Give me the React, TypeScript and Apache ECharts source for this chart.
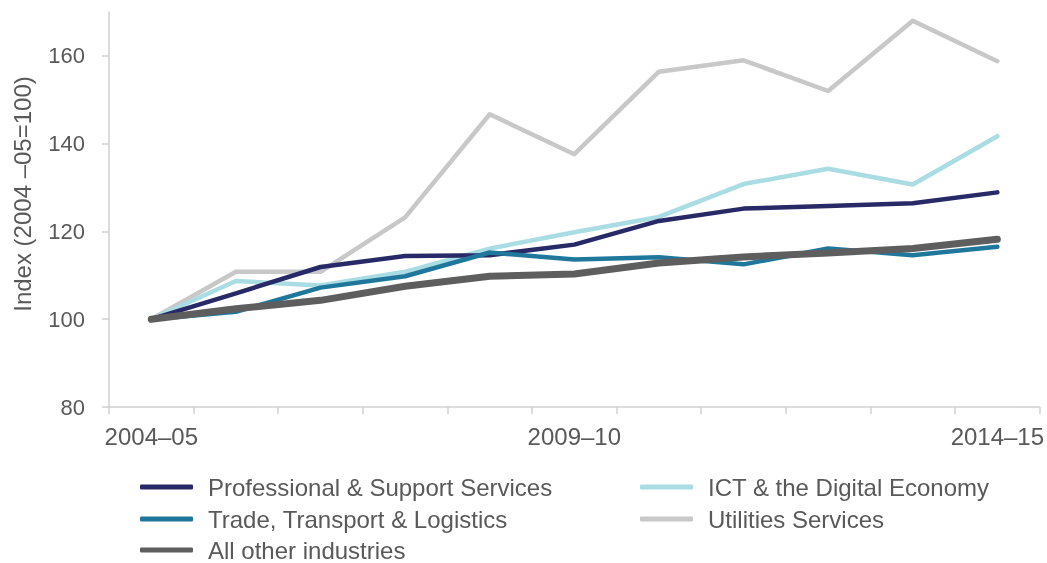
import React, { useEffect, useRef } from "react";
import * as echarts from "echarts";

const categories = ["2004–05", "2005–06", "2006–07", "2007–08", "2008–09", "2009–10", "2010–11", "2011–12", "2012–13", "2013–14", "2014–15"];
const yTicks = [80, 100, 120, 140, 160];

const professional = [100, 105.9, 111.9, 114.4, 114.6, 117.0, 122.4, 125.2, 125.8, 126.4, 128.9];
const ict = [100, 108.7, 107.7, 110.8, 116.1, 119.8, 123.3, 130.8, 134.3, 130.7, 141.7];
const trade = [100, 101.7, 107.2, 109.8, 115.2, 113.6, 114.1, 112.5, 116.1, 114.6, 116.5];
const utilities = [100, 110.8, 110.8, 123.2, 146.7, 137.6, 156.4, 159.0, 152.0, 168.0, 158.8];
const allOther = [100, 102.4, 104.3, 107.5, 109.8, 110.3, 112.8, 114.2, 115.1, 116.1, 118.2];

const names = {
  professional: "Professional & Support Services",
  ict: "ICT & the Digital Economy",
  trade: "Trade, Transport & Logistics",
  utilities: "Utilities Services",
  allOther: "All other industries",
};

const FONT = "'Liberation Sans', Arial, sans-serif";
const TEXT = "#595959";
const AXIS = "#d0d0d0";

export default function App() {
  const ref = useRef<HTMLDivElement>(null);
  useEffect(() => {
    if (!ref.current) return;
    const chart = echarts.init(ref.current, undefined, { renderer: "svg" });
    const line = (name: string, data: number[], color: string, width: number) => ({
      name,
      type: "line",
      data,
      symbol: "none",
      showSymbol: false,
      lineStyle: { color, width, cap: "round", join: "round" },
      itemStyle: { color },
    });
    const legendText = { color: TEXT, fontSize: 24, fontFamily: FONT, padding: [0, 0, 0, 10] };
    const legendItem = (name: string, left: number, top: number) => ({
      orient: "horizontal",
      left,
      top,
      padding: 0,
      icon: "roundRect",
      itemWidth: 53,
      itemHeight: 5,
      textStyle: legendText,
      data: [name],
    });
    chart.setOption({
      animation: false,
      textStyle: { fontFamily: FONT },
      grid: { left: 109, right: 6, top: 12, bottom: 156, containLabel: false },
      xAxis: {
        type: "category",
        data: categories,
        boundaryGap: true,
        axisLine: { lineStyle: { color: AXIS, width: 1.5 } },
        axisTick: { show: true, interval: 0, length: 7, lineStyle: { color: AXIS, width: 1.5 } },
        axisLabel: { interval: 4, color: TEXT, fontSize: 24, fontFamily: FONT, margin: 17 },
        splitLine: { show: false },
      },
      yAxis: {
        type: "value",
        min: 80,
        max: 170,
        interval: 20,
        axisLine: { show: true, lineStyle: { color: AXIS, width: 1.5 } },
        axisTick: { show: true, length: 7, customValues: yTicks, lineStyle: { color: AXIS, width: 1.5 } },
        axisLabel: { color: TEXT, fontSize: 22, fontFamily: FONT, margin: 24, customValues: yTicks },
        splitLine: { show: false },
      },
      legend: [
        legendItem(names.professional, 140, 475),
        legendItem(names.trade, 140, 507),
        legendItem(names.allOther, 140, 538),
        legendItem(names.ict, 640, 475),
        legendItem(names.utilities, 640, 507),
      ],
      graphic: [
        {
          type: "text",
          x: 22,
          y: 194,
          rotation: Math.PI / 2,
          style: {
            text: "Index (2004 –05=100)",
            fill: TEXT,
            fontSize: 24,
            fontFamily: FONT,
            align: "center",
            verticalAlign: "middle",
          },
        },
      ],
      series: [
        line(names.utilities, utilities, "#c8c8c8", 4.5),
        line(names.ict, ict, "#a9dce3", 4.5),
        line(names.professional, professional, "#272a66", 4.5),
        line(names.trade, trade, "#1f789b", 4.5),
        line(names.allOther, allOther, "#5e5e5e", 7),
      ],
    });
    return () => chart.dispose();
  }, []);
  return <div ref={ref} style={{ position: "fixed", left: 0, top: 0, width: 1047, height: 563 }} />;
}
